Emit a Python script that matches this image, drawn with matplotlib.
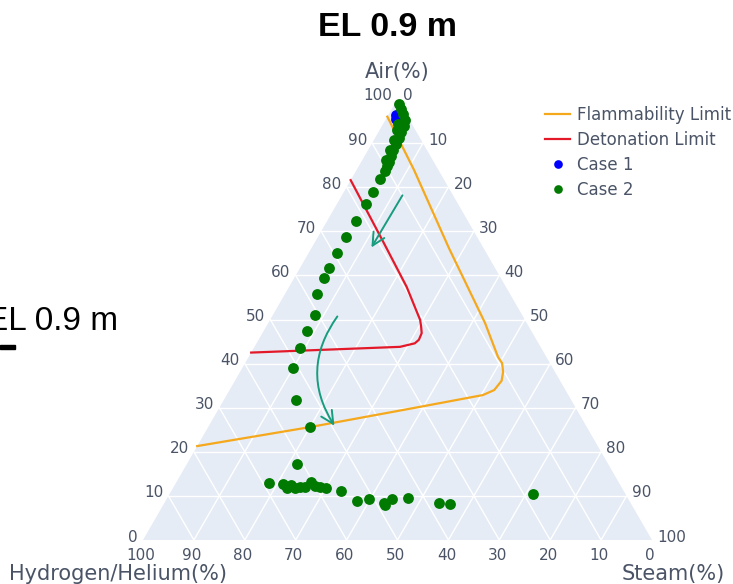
import numpy as np
import matplotlib
matplotlib.use("Agg")
import matplotlib.pyplot as plt
from matplotlib.patches import Polygon, Rectangle

# ternary data in percent: air / hydrogen-helium / steam
flam_air = [96.0, 83.9, 66.2, 49.2, 41.5, 40.1, 38.1, 36.1, 34.0, 32.9, 29.9, 25.6, 21.3]
flam_h2 = [4.0, 4.8, 6.8, 8.2, 9.5, 9.4, 10.2, 11.5, 14.0, 16.8, 32.0, 54.4, 78.7]
flam_steam = [0.0, 11.3, 27.0, 42.6, 49.0, 50.5, 51.7, 52.4, 52.0, 50.4, 38.1, 20.0, 0.0]

det_air = [81.6, 67.6, 57.4, 49.9, 48.3, 46.9, 45.4, 44.6, 43.8, 42.5]
det_h2 = [18.4, 19.0, 19.5, 20.6, 21.2, 21.8, 23.1, 24.3, 27.6, 57.5]
det_steam = [0.0, 13.4, 23.1, 29.5, 30.5, 31.3, 31.5, 31.1, 28.6, 0.0]

case1_air = [96.4, 95.5]
case1_h2 = [2.0, 2.6]
case1_steam = [1.6, 1.9]

case2_air = [98.9, 97.7, 96.6, 95.2, 93.9, 92.5, 91.2, 89.8, 88.4, 87.1, 85.7, 84.8, 94.3,
             93.0, 90.7, 88.4, 86.2,
             83.7, 81.8, 79.0, 76.1, 72.4, 68.6, 65.0, 61.6, 59.3, 55.7, 51.0, 47.3, 43.5,
             39.0, 31.8, 25.6,
             17.2, 13.0, 12.7, 11.7, 12.5, 11.8, 12.0, 12.1, 13.2, 12.2, 12.1, 11.9, 11.1,
             8.9, 9.2, 8.3, 7.9, 9.3, 9.6, 8.5, 8.2, 10.4]
case2_h2 = [0.3, 0.5, 0.6, 0.9, 1.8, 3.0, 4.1, 5.4, 6.7, 7.8, 8.8, 9.7, 2.7,
            3.6, 5.3, 7.3, 9.2,
            10.6, 12.6, 15.3, 18.1, 22.0, 25.8, 29.3, 32.7, 34.8, 38.0, 40.7, 44.1, 47.5,
            51.1, 54.0, 54.4,
            61.1, 68.7, 66.1, 65.9, 64.6, 64.3, 63.2, 62.1, 60.3, 60.1, 59.2, 58.0, 55.6,
            53.5, 51.0, 48.5, 48.5, 46.5, 43.2, 37.6, 35.5, 18.1]
case2_steam = [0.8, 1.8, 2.8, 3.9, 4.3, 4.5, 4.7, 4.8, 4.9, 5.1, 5.5, 5.5, 3.0,
               3.4, 4.0, 4.3, 4.6,
               5.7, 5.6, 5.7, 5.8, 5.6, 5.6, 5.7, 5.7, 5.9, 6.3, 8.3, 8.6, 9.0,
               9.9, 14.2, 20.0,
               21.7, 18.3, 21.2, 22.4, 22.9, 23.9, 24.8, 25.8, 26.5, 27.7, 28.7, 30.1, 33.3,
               37.6, 39.8, 43.2, 43.6, 44.2, 47.2, 53.9, 56.3, 71.5]

# hand drawn arrows (start, end) in the same ternary terms
arrow1 = [(78.7, 9.4, 11.9), (65.8, 22.5, 11.7)]
arrow2 = [(51.2, 35.9, 12.9), (25.4, 49.4, 25.2)]

ticks = list(range(0, 101, 10))

SQ3 = np.sqrt(3) / 2
tick_color = '#4a5466'
font_tern = 'DejaVu Sans'


def tern(air, h2, steam):
    a = np.asarray(air, float)
    b = np.asarray(h2, float)
    c = np.asarray(steam, float)
    s = a + b + c
    a, c = a / s, c / s
    return c + a / 2, a * SQ3


fig = plt.figure(figsize=(7.33, 5.84), dpi=100)
ax = fig.add_axes([143 / 733, 44 / 584, 509 / 733, 441 / 584])
ax.set_xlim(0, 1)
ax.set_ylim(0, SQ3)
ax.axis('off')

ax.add_patch(Polygon([(0, 0), (1, 0), (0.5, SQ3)], closed=True, fc='#E5ECF6', ec='none', zorder=0))

for v in ticks[1:-1]:
    for xs, ys in (tern([v, v], [100 - v, 0], [0, 100 - v]),
                   tern([0, 100 - v], [v, v], [100 - v, 0]),
                   tern([0, 100 - v], [100 - v, 0], [v, v])):
        ax.plot(xs, ys, color='white', lw=1, zorder=1)

# tick labels
for v in ticks:
    x, y = tern(v, 100 - v, 0)
    ax.annotate(str(v), (x, y), xytext=(-5, 3), textcoords='offset pixels',
                ha='right', va='center', fontsize=11, color=tick_color, family=font_tern)
    x, y = tern(100 - v, 0, v)
    ax.annotate(str(v), (x, y), xytext=(5, 3), textcoords='offset pixels',
                ha='left', va='center', fontsize=11, color=tick_color, family=font_tern)
    x, y = tern(0, v, 100 - v)
    ax.annotate(str(v), (x, y), xytext=(-2, -16), textcoords='offset pixels',
                ha='center', va='center', fontsize=11, color=tick_color, family=font_tern)

ax.annotate('Air(%)', (0.5, SQ3), xytext=(0, 27), textcoords='offset pixels',
            ha='center', va='center', fontsize=15, color=tick_color, family=font_tern)
ax.annotate('Hydrogen/Helium(%)', (0, 0), xytext=(-25, -34), textcoords='offset pixels',
            ha='center', va='center', fontsize=15, color=tick_color, family=font_tern)
ax.annotate('Steam(%)', (1, 0), xytext=(21, -34), textcoords='offset pixels',
            ha='center', va='center', fontsize=15, color=tick_color, family=font_tern)

# traces
x, y = tern(flam_air, flam_h2, flam_steam)
ax.plot(x, y, color='#f5a81c', lw=1.6, label='Flammability Limit', zorder=3, solid_joinstyle='round')
x, y = tern(det_air, det_h2, det_steam)
ax.plot(x, y, color='#e3192a', lw=1.6, label='Detonation Limit', zorder=3, solid_joinstyle='round')
x, y = tern(case1_air, case1_h2, case1_steam)
ax.plot(x, y, 'o', color='blue', ms=7.8, mew=0, label='Case 1', zorder=4, clip_on=False)
x, y = tern(case2_air, case2_h2, case2_steam)
ax.plot(x, y, 'o', color='#007a00', ms=7.8, mew=0, label='Case 2', zorder=5, clip_on=False)

# arrows
ax1s, ax1e = [tern(*p) for p in arrow1]
ax.annotate('', xy=ax1e, xytext=ax1s,
            arrowprops=dict(arrowstyle='->,head_length=0.9,head_width=0.45', color='#179c7d', lw=1.4),
            zorder=6)
ax2s, ax2e = [tern(*p) for p in arrow2]
ax.annotate('', xy=ax2e, xytext=ax2s,
            arrowprops=dict(arrowstyle='->,head_length=0.9,head_width=0.45', color='#179c7d', lw=1.4,
                            connectionstyle='arc3,rad=0.35'),
            zorder=6)

leg = ax.legend(loc='upper left', bbox_to_anchor=(545 / 733, 1 - 106 / 584),
                bbox_transform=fig.transFigure, frameon=False,
                handlelength=1.5, handletextpad=0.4, labelspacing=0.42, borderaxespad=0,
                borderpad=0, markerscale=0.8, labelcolor=tick_color,
                prop={'family': font_tern, 'size': 12})

fig.text(388 / 733, 1 - 27 / 584, 'EL 0.9 m', ha='center', va='center', fontsize=24.5,
         fontweight='bold', family='Liberation Sans')
fig.text(-14 / 733, 1 - 321 / 584, 'EL 0.9 m', ha='left', va='center', fontsize=24,
         family='Liberation Sans')
fig.add_artist(Rectangle((0, 1 - 349 / 584), 15 / 733, 4 / 584, transform=fig.transFigure,
                         color='black'))

fig.savefig('out.png', dpi=100)
